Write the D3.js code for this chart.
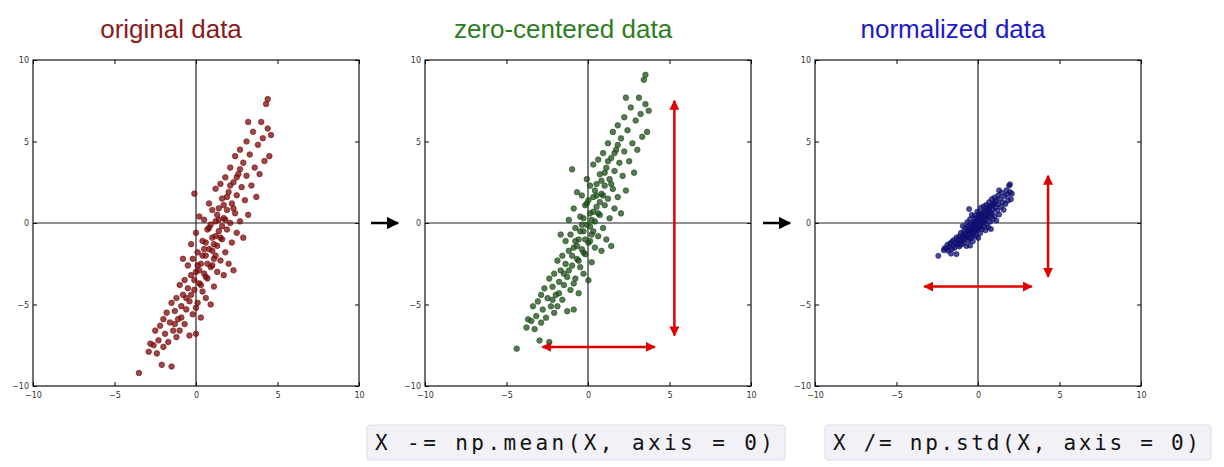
<!DOCTYPE html>
<html lang="en">
<head>
<meta charset="UTF-8">
<title>Data preprocessing</title>
<script src="https://d3js.org/d3.v7.min.js"></script>
<style>
  body { margin: 0; background: #fff; }
  .title { font-family: "Liberation Sans", Arial, sans-serif; font-size: 26px; }
  .tick text { font-family: "DejaVu Sans", sans-serif; font-size: 8px; fill: #333; }
  .code { font-family: "DejaVu Sans Mono", monospace; font-size: 21px; fill: #111; }
</style>
</head>
<body>
<svg id="chart" width="1224" height="467"></svg>
<script>
// original points
const original = [
  [-3.5,-9.2],[-2.9,-7.9],[-2.8,-7.4],[-2.6,-7.5],[-2.5,-6.6],[-2.4,-8.0],[-2.3,-7.2],[-2.2,-6.3],
  [-2.1,-8.7],[-2.0,-7.6],[-2.0,-5.9],[-1.9,-6.8],[-1.8,-5.5],[-1.7,-7.3],[-1.6,-6.1],[-1.5,-8.8],
  [-1.5,-4.9],[-1.4,-6.6],[-1.3,-5.4],[-1.2,-7.0],[-1.2,-4.6],[-1.1,-5.9],[-1.0,-3.8],[-1.0,-6.6],
  [-0.9,-5.1],[-0.8,-2.2],[-0.8,-4.4],[-0.7,-6.2],[-0.7,-3.5],[-0.6,-5.3],[-0.5,-4.0],[-0.5,-2.6],
  [-0.4,-6.9],[-0.4,-4.8],[-0.3,-3.2],[-0.3,-1.3],[-0.2,-5.6],[-0.2,-2.2],[-0.1,-4.1],[-0.1,1.8],
  [0.0,-3.0],[0.0,-0.6],[0.0,-6.8],[0.1,-4.9],[0.1,-1.8],[0.2,-3.7],[0.2,0.4],[0.3,-2.5],
  [0.3,-5.8],[0.4,-1.1],[0.4,-4.2],[0.5,-3.1],[0.5,0.2],[0.6,-2.0],[0.6,-4.6],[0.7,-0.4],
  [0.7,-3.4],[0.8,-1.6],[0.8,1.2],[0.9,-2.7],[0.9,-5.0],[1.0,-0.9],[1.0,0.8],[1.1,-2.2],
  [1.1,-3.9],[1.2,0.1],[1.2,2.1],[1.3,-1.4],[1.3,-3.0],[1.4,0.9],[1.4,-0.5],[1.5,-2.3],
  [1.5,2.4],[1.6,-1.0],[1.6,1.5],[1.7,0.3],[1.7,-3.2],[1.8,-1.8],[1.8,2.8],[1.9,0.8],
  [1.9,-0.4],[2.0,1.9],[2.0,-2.5],[2.1,3.4],[2.1,0.0],[2.2,1.2],[2.2,-1.2],[2.3,2.5],
  [2.3,-2.9],[2.4,4.1],[2.4,0.6],[2.5,1.7],[2.5,-0.6],[2.6,3.0],[2.7,0.1],[2.7,4.5],
  [2.8,2.2],[2.9,3.7],[2.9,-0.9],[3.0,1.4],[3.1,5.0],[3.1,2.9],[3.2,0.5],[3.3,4.2],
  [3.4,2.3],[3.5,5.6],[3.6,3.4],[3.7,1.6],[3.8,4.8],[3.9,3.0],[4.0,6.2],[4.1,5.2],
  [4.2,3.8],[4.3,7.3],[4.4,5.8],[4.5,4.1],[4.6,5.4],[3.2,6.2],[4.4,7.6],
  [0.2,-2.9],[0.4,-2.0],[0.6,-1.2],[0.8,-0.3],[1.0,-1.7],[1.2,-0.8],[1.4,0.2],[1.6,-0.2],
  [0.3,-3.8],[0.5,-1.6],[0.7,-2.5],[0.9,-0.1],[1.1,-1.3],[1.3,0.5],[1.5,-0.9],[1.7,1.1],
  [-0.1,-3.5],[0.1,-2.6],[-0.3,-4.4],[0.0,-5.2],[-0.6,-4.6],[-0.9,-5.8],[-1.3,-6.2],[1.9,1.6],
  [2.1,2.3],[2.3,0.9],[2.5,2.8],[2.7,3.3],[1.8,0.2],[1.0,-2.6],[0.6,-3.3],[1.2,-2.0]
];
const ticks = [-10, -5, 0, 5, 10];
const titles = ["original data", "zero-centered data", "normalized data"];
const titleColors = ["#8b1a1a", "#2e7d1e", "#1a1acc"];
const dotColors = ["#7a0a0a", "#1e4d1a", "#101070"];
const codeLines = ["X -= np.mean(X, axis = 0)", "X /= np.std(X, axis = 0)"];
// red range arrows: [panel, x1, y1, x2, y2] in data units
const arrows = [
  [1, 5.3, -6.9, 5.3, 7.5], [1, -2.8, -7.6, 4.1, -7.6],
  [2, 4.3, -3.3, 4.3, 2.9], [2, -3.3, -3.9, 3.3, -3.9]
];

const mean = [d3.mean(original, d => d[0]), d3.mean(original, d => d[1])];
const centered = original.map(d => [d[0] - mean[0], d[1] - mean[1]]);
const sd = [d3.deviation(centered, d => d[0]), d3.deviation(centered, d => d[1])];
const normalized = centered.map(d => [d[0] / sd[0], d[1] / sd[1]]);
const sets = [original, centered, normalized];

const svg = d3.select("#chart");
const defs = svg.append("defs");
defs.append("marker").attr("id", "red").attr("viewBox", "0 0 10 10")
  .attr("refX", 9).attr("refY", 5).attr("markerWidth", 4).attr("markerHeight", 4)
  .attr("orient", "auto-start-reverse")
  .append("path").attr("d", "M0,0L10,5L0,10z").attr("fill", "#e00000");
defs.append("marker").attr("id", "black").attr("viewBox", "0 0 10 10")
  .attr("refX", 9).attr("refY", 5).attr("markerWidth", 5).attr("markerHeight", 5)
  .attr("orient", "auto")
  .append("path").attr("d", "M0,0L10,5L0,10z").attr("fill", "#000");

const lefts = [33, 425, 815];
const size = 326, plotTop = 60;

lefts.forEach((left, i) => {
  const x = d3.scaleLinear().domain([-10, 10]).range([left, left + size]);
  const y = d3.scaleLinear().domain([-10, 10]).range([plotTop + size, plotTop]);
  const g = svg.append("g");

  g.append("text").attr("class", "title").attr("x", left + size / 2 - 25).attr("y", 38)
    .attr("text-anchor", "middle").attr("fill", titleColors[i]).text(titles[i]);

  g.append("g").attr("transform", `translate(0,${plotTop + size})`)
    .call(d3.axisBottom(x).tickValues(ticks).tickSize(-4).tickPadding(6))
    .call(a => a.select(".domain").remove());
  g.append("g").attr("transform", `translate(${left},0)`)
    .call(d3.axisLeft(y).tickValues(ticks).tickSize(-4).tickPadding(4))
    .call(a => a.select(".domain").remove());
  g.append("g").attr("transform", `translate(0,${plotTop})`)
    .call(d3.axisTop(x).tickValues(ticks).tickSize(-4).tickFormat(""))
    .call(a => a.select(".domain").remove());
  g.append("g").attr("transform", `translate(${left + size},0)`)
    .call(d3.axisRight(y).tickValues(ticks).tickSize(-4).tickFormat(""))
    .call(a => a.select(".domain").remove());

  g.append("line").attr("x1", x(0)).attr("x2", x(0)).attr("y1", y(10)).attr("y2", y(-10))
    .attr("stroke", "#222").attr("stroke-width", 1.2);
  g.append("line").attr("x1", x(-10)).attr("x2", x(10)).attr("y1", y(0)).attr("y2", y(0))
    .attr("stroke", "#222").attr("stroke-width", 1.2);
  g.append("rect").attr("x", left).attr("y", plotTop).attr("width", size).attr("height", size)
    .attr("fill", "none").attr("stroke", "#111").attr("stroke-width", 1.2);

  g.selectAll("circle").data(sets[i]).join("circle")
    .attr("cx", d => x(d[0])).attr("cy", d => y(d[1])).attr("r", i === 2 ? 2.6 : 2.8)
    .attr("fill", dotColors[i]).attr("fill-opacity", 0.75)
    .attr("stroke", dotColors[i]).attr("stroke-width", 0.6);

  arrows.filter(a => a[0] === i).forEach(a => {
    g.append("line").attr("x1", x(a[1])).attr("y1", y(a[2])).attr("x2", x(a[3])).attr("y2", y(a[4]))
      .attr("stroke", "#e00000").attr("stroke-width", 2.5)
      .attr("marker-start", "url(#red)").attr("marker-end", "url(#red)");
  });

  if (i < 2) {
    const ax = lefts[i] + size + 12;
    svg.append("line").attr("x1", ax).attr("x2", ax + 27).attr("y1", y(0)).attr("y2", y(0))
      .attr("stroke", "#000").attr("stroke-width", 2.5).attr("marker-end", "url(#black)");
  }
});

// code boxes
[[367, 418], [825, 386]].forEach((b, i) => {
  svg.append("rect").attr("x", b[0]).attr("y", 425).attr("width", b[1]).attr("height", 35)
    .attr("rx", 3).attr("fill", "#f1f1f7").attr("stroke", "#dcdce6");
  svg.append("text").attr("class", "code").attr("x", b[0] + 8).attr("y", 450)
    .attr("textLength", b[1] - 20).text(codeLines[i]);
});
</script>
</body>
</html>
